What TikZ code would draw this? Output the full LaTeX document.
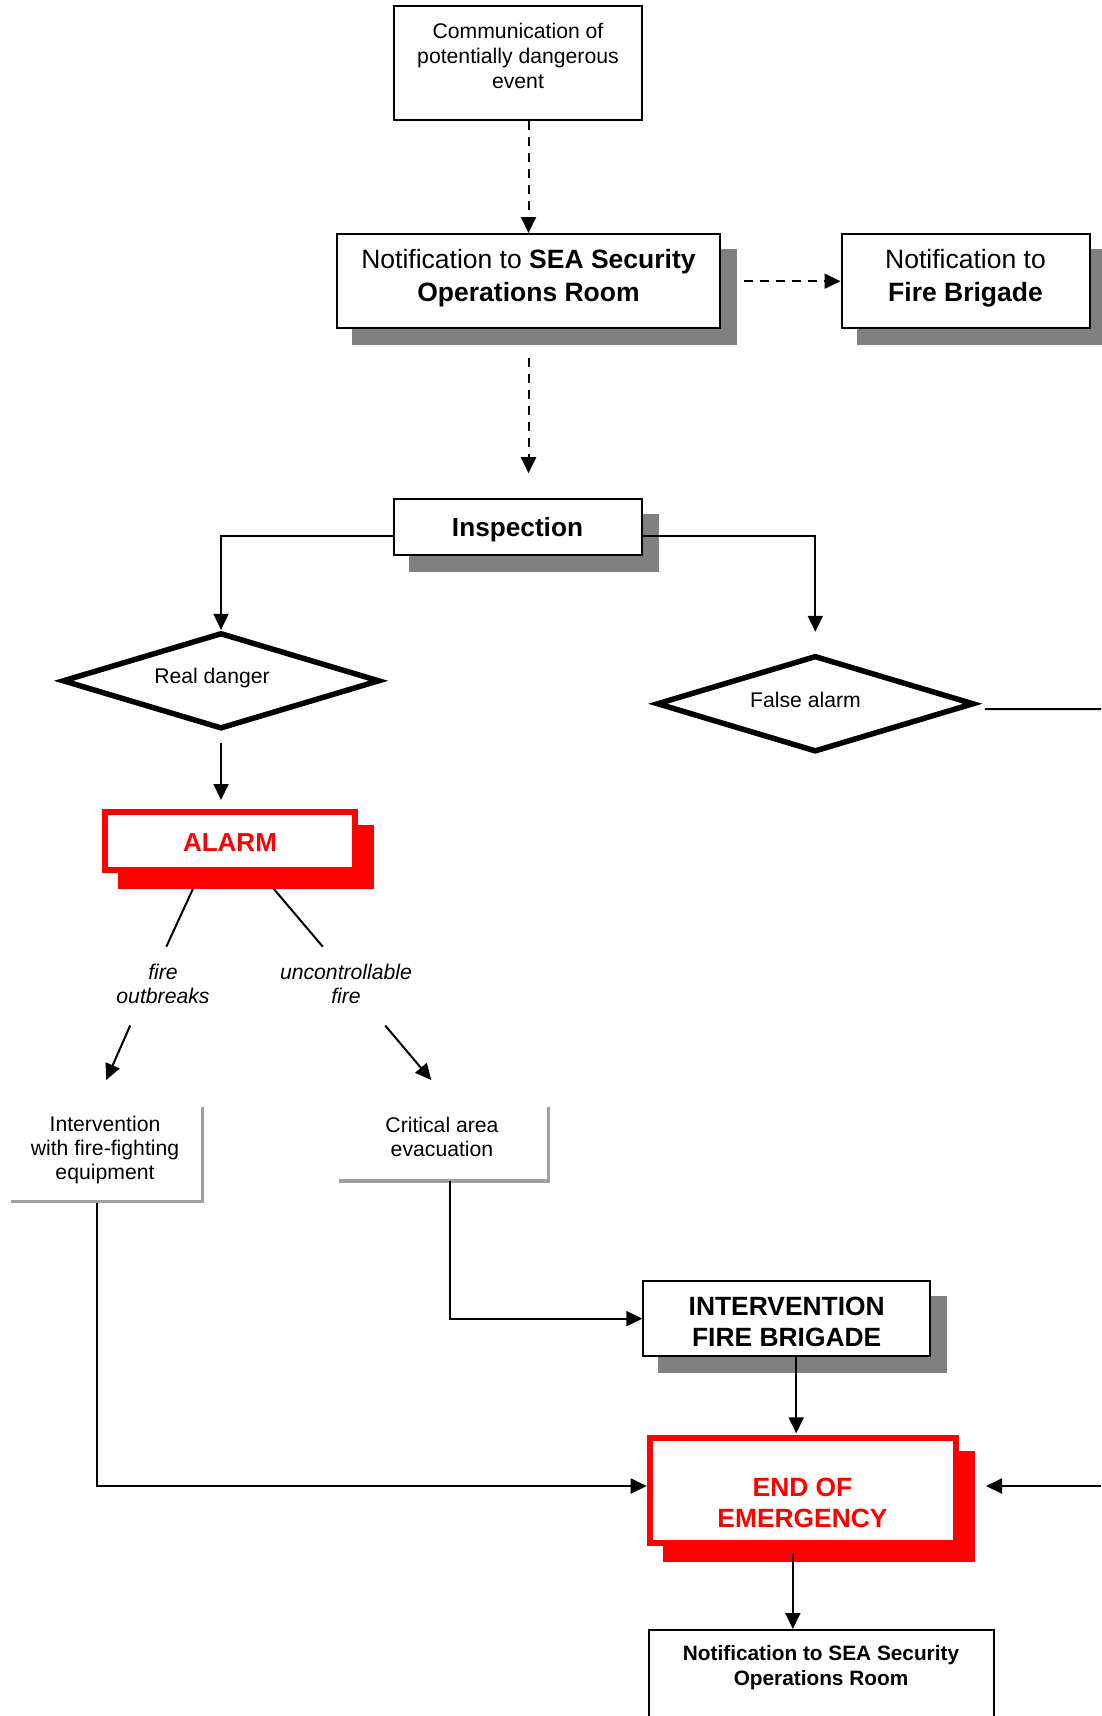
\documentclass[tikz,border=0pt]{standalone}
\usepackage{fontspec}
\setmainfont{Liberation Sans}
\usetikzlibrary{arrows.meta,shapes.geometric,backgrounds}
\definecolor{shgray}{HTML}{808080}
\definecolor{lgray}{HTML}{A0A0A0}
\definecolor{alarmred}{HTML}{FF0000}
\begin{document}
\begin{tikzpicture}[x=1pt,y=-1pt,
  box/.style={draw, line width=2pt, fill=white, rectangle, inner sep=0pt},
  redbox/.style={draw=alarmred, line width=6pt, fill=white, rectangle, inner sep=0pt},
  dia/.style={draw, diamond, line width=5.5pt, fill=white, inner sep=0pt},
  txt/.style={align=center, inner sep=0pt, font=\fontsize{21.2}{24.6}\selectfont},
  big/.style={align=center, inner sep=0pt, font=\fontsize{26.5}{32.8}\selectfont},
  conn/.style={line width=2pt, -{Triangle[length=16pt,width=15pt]}},
  dconn/.style={conn, dash pattern=on 9pt off 7pt},
  plainline/.style={line width=2pt},
  gline/.style={line width=3.5pt, draw=lgray},
  ghost/.style={rectangle, inner sep=0pt, outer sep=0pt},
]
\useasboundingbox (0,0) rectangle (1101,1716);
\begin{scope}[on background layer]
  \fill[white] (0,0) rectangle (1101,1716);
\end{scope}

% boxes
\node[box, minimum width=248, minimum height=114] (b1) at (518,63) {};
\node[txt] (b1t) at (518,56) {Communication of\\potentially dangerous\\event};

\node[box, minimum width=383, minimum height=94.4] (b2) at (528.5,281.2) {};
\node[big] (b2t) at (528.5,278.5) {Notification to \textbf{SEA Security}\\\textbf{Operations Room}};

\node[box, minimum width=248.5, minimum height=94.4] (b3) at (965.75,281.2) {};
\node[big] (b3t) at (965.5,278.5) {Notification to\\\textbf{Fire Brigade}};

\node[box, minimum width=248, minimum height=56] (b4) at (518.3,527.2) {};
\node[inner sep=0pt, font=\bfseries\fontsize{26.2}{32}\selectfont] (b4t) at (517.5,529.5) {Inspection};

\node[dia, minimum width=317.4, minimum height=96.4] (d1) at (221,680.8) {};
\node[txt] (d1t) at (212,678.5) {Real danger};
\node[dia, minimum width=317.4, minimum height=96.5] (d2) at (815.3,703.75) {};
\node[txt] (d2t) at (805.5,699.5) {False alarm};

\node[redbox, minimum width=250, minimum height=58] (alarm) at (230,841) {};
\node[inner sep=0pt, text=alarmred, font=\bfseries\fontsize{26}{30}\selectfont] (alarmt) at (230,843) {ALARM};

\node[txt, font=\itshape\fontsize{21.2}{24}\selectfont] (l1) at (163,984) {fire\\outbreaks};
\node[txt, font=\itshape\fontsize{21.2}{24}\selectfont] (l2) at (346,984) {uncontrollable\\fire};

\node[ghost, minimum width=191.7, minimum height=94.5] (lb) at (106.85,1154.25) {};
\node[txt, font=\fontsize{21.2}{24}\selectfont] (lbt) at (105,1150.5) {Intervention\\with fire-fighting\\equipment};
\node[ghost, minimum width=209.3, minimum height=74] (rb) at (443.65,1144) {};
\node[txt, font=\fontsize{21.2}{24}\selectfont] (rbt) at (442,1137) {Critical area\\evacuation};
\draw[gline] (lb.north east) -- (lb.south east) -- (lb.south west);
\draw[gline] (rb.north east) -- (rb.south east) -- (rb.south west);

\node[box, minimum width=286.6, minimum height=75.3] (iv) at (786.7,1318.65) {};
\node[inner sep=0pt, align=center, font=\bfseries\fontsize{26.4}{31}\selectfont] (ivt) at (786.7,1322) {INTERVENTION\\FIRE BRIGADE};

\node[redbox, minimum width=306.3, minimum height=105] (end) at (802.85,1490.5) {};
\node[big, text=alarmred, font=\bfseries\fontsize{26.4}{31}\selectfont] (endt) at (802.5,1502.5) {END OF\\EMERGENCY};

\node[box, minimum width=345, minimum height=140] (last) at (821.5,1700) {};
\node[txt, font=\bfseries\fontsize{20.8}{25}\selectfont] (lastt) at (821,1668) {Notification to SEA Security\\Operations Room};

% shadows
\begin{scope}[on background layer]
  \foreach \n in {b2,b3,b4,iv}{
    \fill[shgray] ([shift={(16,16)}]\n.north west) rectangle ([shift={(16,16)}]\n.south east);
  }
  \foreach \n in {alarm,end}{
    \fill[alarmred] ([shift={(16,16)}]\n.north west) rectangle ([shift={(16,16)}]\n.south east);
  }
\end{scope}

% connectors
\draw[dconn] (b2.north |- b1.south) -- (b2.north);
\draw[dconn, shorten <=23pt] (b2.east) -- (b3.west);
\draw[dconn, shorten <=28.5pt, shorten >=25pt] (b2.south) -- (b2.south |- b4.north);
\draw[conn] ([shift={(0,9)}]b4.west) -| (d1.north);
\draw[conn] ([shift={(0,9)}]b4.east) -| ([shift={(0,-21)}]d2.north);
\draw[conn, shorten <=11pt, shorten >=9pt] (d1.south) -- (d1.south |- alarm.north);
\draw[plainline] ([shift={(-37,15.7)}]alarm.south) -- ([shift={(3.3,-37.3)}]l1.center);
\draw[plainline] ([shift={(43.6,15.7)}]alarm.south) -- ([shift={(-23.2,-37.3)}]l2.center);
\draw[conn] ([shift={(-32.8,41.5)}]l1.center) -- ([shift={(-0.65,-27)}]lb.north);
\draw[conn] ([shift={(39.2,41.5)}]l2.center) -- ([shift={(-12.45,-27)}]rb.north);
\draw[conn] ([shift={(-10.3,1.5)}]lb.south) |- ([shift={(0,-4.5)}]end.west);
\draw[conn] ([shift={(6.35,0)}]rb.south) |- (iv.west);
\draw[conn] ([shift={(9.5,0)}]iv.south) -- +(0,76);
\draw[conn] ([shift={(-10,8)}]end.south) -- +(0,75);
\coordinate (er) at (1101,1486);
\draw[conn, shorten >=27pt] (er) -- (er -| end.east);
\coordinate (fa) at (1101,709);
\draw[plainline] ([shift={(8,5.3)}]d2.east) -- (fa);
\end{tikzpicture}
\end{document}
